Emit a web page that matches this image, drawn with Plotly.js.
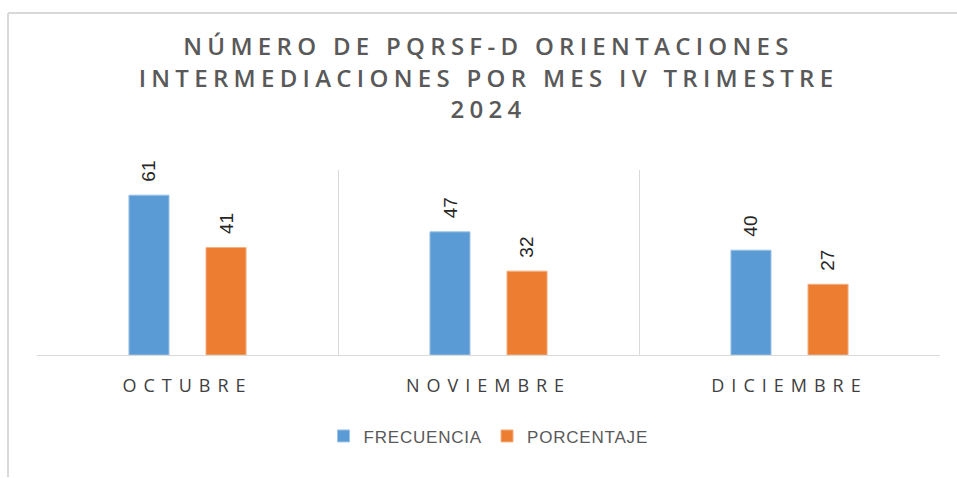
<!DOCTYPE html>
<html>
<head>
<meta charset="utf-8">
<script src="https://cdn.plot.ly/plotly-3.0.1.min.js"></script>
<style>
  html, body { margin: 0; padding: 0; background: #fff; }
  #chart { width: 957px; height: 478px; }
  .xtick text { letter-spacing: 7px; }
  .gtitle { letter-spacing: 5.3px; }
  .legendtext { letter-spacing: 0.8px; }
</style>
</head>
<body>
<div id="chart"></div>
<script>
const categories = ["OCTUBRE", "NOVIEMBRE", "DICIEMBRE"];
const frecuencia = [61, 47, 40];
const porcentaje = [41, 32, 27];
const seriesNames = ["FRECUENCIA", "PORCENTAJE"];

const labelFont = { family: "Liberation Sans, Arial, sans-serif", size: 19, color: "#262626" };

const traces = [
  {
    type: "bar", name: seriesNames[0], x: categories, y: frecuencia,
    marker: { color: "#5B9BD5", line: { color: "#9DC3E6", width: 1 } },
    hoverinfo: "skip"
  },
  {
    type: "bar", name: seriesNames[1], x: categories, y: porcentaje,
    marker: { color: "#ED7D31", line: { color: "#F4B183", width: 1 } },
    hoverinfo: "skip"
  }
];

const annotations = [];
[frecuencia, porcentaje].forEach(function (series, si) {
  series.forEach(function (v, i) {
    annotations.push({
      x: categories[i], y: v, xref: "x", yref: "y",
      xshift: si === 0 ? -38.5 : 38.5, yshift: 11,
      text: String(v), textangle: -90, showarrow: false,
      xanchor: "center", yanchor: "bottom",
      font: labelFont
    });
  });
});

const layout = {
  width: 957, height: 478,
  margin: { l: 37, r: 17, t: 170, b: 123, pad: 0 },
  paper_bgcolor: "#ffffff", plot_bgcolor: "#ffffff",
  barmode: "group", bargap: 0.488, bargroupgap: 0.48,
  showlegend: true,
  title: {
    text: "NÚMERO DE PQRSF-D ORIENTACIONES<br>INTERMEDIACIONES POR MES IV TRIMESTRE<br>2024",
    font: { family: "Open Sans, sans-serif", size: 24, color: "#595959", weight: 600 },
    x: 0.5, xanchor: "center", xref: "paper",
    y: 0.884, yanchor: "middle", yref: "container"
  },
  xaxis: {
    type: "category",
    tickson: "boundaries",
    showgrid: true, gridcolor: "#D9D9D9", gridwidth: 1,
    showline: true, linecolor: "#D9D9D9", linewidth: 1,
    ticks: "", ticklen: 0, ticklabelstandoff: 14,
    tickfont: { family: "Open Sans, sans-serif", size: 18, color: "#404040" },
    zeroline: false, fixedrange: true
  },
  yaxis: {
    range: [0, 70.6],
    showgrid: false, showticklabels: false, zeroline: false, showline: false,
    ticks: "", fixedrange: true
  },
  legend: {
    orientation: "h", x: 0.5, xanchor: "center", y: -0.44, yanchor: "middle",
    font: { family: "Liberation Sans, Arial, sans-serif", size: 17, color: "#595959" },
    itemwidth: 30, traceorder: "normal"
  },
  annotations: annotations,
  shapes: [
    { type: "line", xref: "paper", yref: "paper", x0: -0.0321, x1: 1.04, y0: 1.849, y1: 1.849,
      line: { color: "#D9D9D9", width: 2 } },
    { type: "line", xref: "paper", yref: "paper", x0: -0.0321, x1: -0.0321, y0: 1.849, y1: -0.66,
      line: { color: "#D9D9D9", width: 2 } }
  ]
};

Plotly.newPlot("chart", traces, layout, { displayModeBar: false, staticPlot: true });
</script>
</body>
</html>
